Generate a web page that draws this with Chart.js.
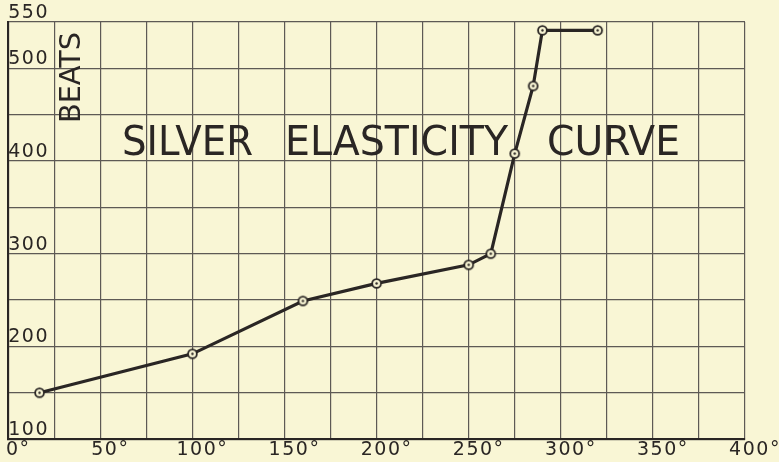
<!DOCTYPE html>
<html><head><meta charset="utf-8">
<script src="https://cdn.jsdelivr.net/npm/chart.js@4/dist/chart.umd.min.js"></script>
<style>
html,body{margin:0;padding:0;background:#f9f6d5;}
#wrap{width:779px;height:462px;}
</style>
</head><body><div id="wrap"><canvas id="c" width="779" height="462"></canvas></div>
<script>
// Data
const temperatures = [17, 100, 160, 200, 250, 262, 275, 285, 290, 320];
const beats = [150, 192, 249, 268, 288, 300, 408, 481, 541, 541];
const xTickLabels = [0, 50, 100, 150, 200, 250, 300, 350, 400];
const yTickLabels = [100, 200, 300, 400, 500, 550];
const titleWords = ['SILVER', 'ELASTICITY', 'CURVE'];
const yAxisLabel = 'BEATS';

const INK = '#2a2624';
const GRID = '#5e5a55';
const BG = '#f9f6d5';
const FONT = '"DejaVu Sans", sans-serif';

function makeMarker() {
  const c = document.createElement('canvas');
  c.width = 13; c.height = 13;
  const g = c.getContext('2d');
  g.fillStyle = BG;
  g.beginPath(); g.arc(6.5, 6.5, 4.4, 0, 2 * Math.PI); g.fill();
  g.lineWidth = 1.8; g.strokeStyle = INK; g.stroke();
  g.fillStyle = INK;
  g.beginPath(); g.arc(6.5, 6.5, 1.2, 0, 2 * Math.PI); g.fill();
  return c;
}

const textPlugin = {
  id: 'textPlugin',
  beforeDraw(chart) {
    chart.ctx.letterSpacing = '1.5px';
  },
  beforeDatasetsDraw(chart) {
    const ctx = chart.ctx;
    ctx.save();
    ctx.letterSpacing = '0px';
    ctx.fillStyle = INK;
    ctx.font = '40px ' + FONT;
    ctx.textBaseline = 'alphabetic';
    ctx.textAlign = 'left';
    const spans = [[122, 253], [285, 508], [547, 680]];
    titleWords.forEach((w, i) => {
      const mw = ctx.measureText(w).width;
      const tw = spans[i][1] - spans[i][0];
      ctx.save();
      ctx.translate(spans[i][0], 155);
      ctx.scale(tw / mw, 1);
      ctx.fillText(w, 0, 0);
      ctx.restore();
    });
    ctx.font = '29px ' + FONT;
    ctx.textAlign = 'center';
    const bw = ctx.measureText(yAxisLabel).width;
    ctx.translate(80, 77.5);
    ctx.rotate(-Math.PI / 2);
    ctx.scale(91 / bw, 1);
    ctx.fillText(yAxisLabel, 0, 0);
    ctx.restore();
  }
};

new Chart(document.getElementById('c'), {
  type: 'line',
  data: {
    datasets: [{
      data: temperatures.map((t, i) => ({ x: t, y: beats[i] })),
      borderColor: INK,
      borderWidth: 3.2,
      pointStyle: makeMarker(),
      pointRadius: 5,
      tension: 0,
      fill: false
    }]
  },
  options: {
    responsive: false,
    animation: false,
    plugins: { legend: { display: false }, tooltip: { enabled: false } },
    layout: { padding: { left: 7, top: 22, right: 34, bottom: 0 } },
    scales: {
      x: {
        type: 'linear', min: 0, max: 400,
        afterFit: s => { s.paddingLeft = 0; s.paddingRight = 0; },
        grid: { color: GRID, lineWidth: 1.2, drawTicks: false },
        border: { color: INK, width: 2 },
        ticks: {
          stepSize: 25, autoSkip: false, maxRotation: 0, padding: 1,
          color: INK, labelOffset: 10,
          font: { family: FONT, size: 19, lineHeight: 1.1 },
          callback: v => xTickLabels.includes(v) ? v + '°' : ''
        }
      },
      y: {
        type: 'linear', min: 100, max: 550,
        grid: { color: GRID, lineWidth: 1.2, drawTicks: false },
        border: { color: INK, width: 2 },
        ticks: {
          stepSize: 50, autoSkip: false, mirror: true, padding: 0,
          color: INK, labelOffset: -9,
          font: { family: FONT, size: 19 },
          callback: v => yTickLabels.includes(v) ? String(v) : ''
        }
      }
    }
  },
  plugins: [textPlugin]
});
</script>
</body></html>
